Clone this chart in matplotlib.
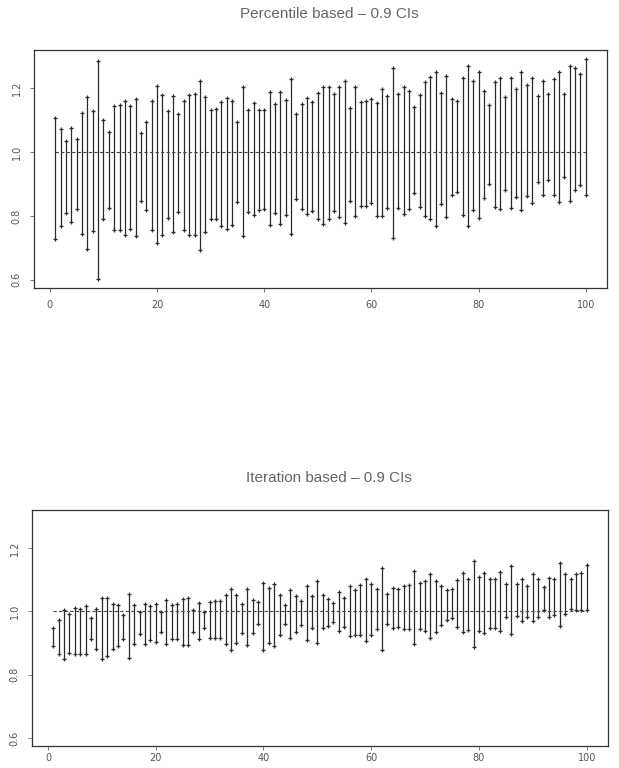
import numpy as np
import matplotlib
matplotlib.use("Agg")
import matplotlib.pyplot as plt

# ---- data ----
idx = list(range(1, 101))

pct_lower = [0.729, 0.768, 0.809, 0.781, 0.823, 0.745, 0.698, 0.754, 0.602, 0.792,
             0.826, 0.755, 0.755, 0.740, 0.760, 0.738, 0.846, 0.818, 0.755, 0.714,
             0.740, 0.795, 0.750, 0.813, 0.755, 0.740, 0.740, 0.693, 0.750, 0.789,
             0.789, 0.768, 0.760, 0.773, 0.844, 0.736, 0.813, 0.802, 0.820, 0.823,
             0.773, 0.810, 0.776, 0.804, 0.742, 0.854, 0.823, 0.807, 0.815, 0.790,
             0.775, 0.790, 0.815, 0.797, 0.779, 0.847, 0.800, 0.831, 0.831, 0.842,
             0.800, 0.800, 0.824, 0.732, 0.824, 0.807, 0.823, 0.873, 0.829, 0.800,
             0.792, 0.768, 0.836, 0.797, 0.867, 0.875, 0.802, 0.768, 0.818, 0.795,
             0.857, 0.901, 0.828, 0.823, 0.882, 0.825, 0.859, 0.820, 0.862, 0.839,
             0.906, 0.865, 0.911, 0.865, 0.844, 0.922, 0.846, 0.882, 0.896, 0.865]
pct_upper = [1.107, 1.071, 1.036, 1.076, 1.040, 1.123, 1.171, 1.128, 1.286, 1.099,
             1.064, 1.143, 1.146, 1.161, 1.143, 1.167, 1.059, 1.094, 1.159, 1.206,
             1.179, 1.130, 1.177, 1.118, 1.161, 1.179, 1.182, 1.224, 1.172, 1.132,
             1.135, 1.158, 1.169, 1.161, 1.094, 1.203, 1.132, 1.154, 1.133, 1.133,
             1.188, 1.151, 1.188, 1.164, 1.229, 1.120, 1.151, 1.169, 1.156, 1.185,
             1.205, 1.203, 1.182, 1.203, 1.221, 1.139, 1.203, 1.157, 1.159, 1.165,
             1.154, 1.199, 1.175, 1.264, 1.182, 1.203, 1.190, 1.142, 1.180, 1.219,
             1.235, 1.251, 1.185, 1.237, 1.165, 1.161, 1.232, 1.271, 1.221, 1.250,
             1.190, 1.146, 1.219, 1.231, 1.172, 1.231, 1.198, 1.250, 1.211, 1.231,
             1.177, 1.224, 1.182, 1.229, 1.250, 1.182, 1.268, 1.262, 1.245, 1.292]

itr_lower = [0.889, 0.866, 0.849, 0.868, 0.865, 0.866, 0.865, 0.911, 0.880, 0.849,
             0.860, 0.880, 0.889, 0.911, 0.852, 0.896, 0.927, 0.897, 0.909, 0.902,
             0.935, 0.897, 0.911, 0.911, 0.894, 0.894, 0.935, 0.911, 0.948, 0.914,
             0.914, 0.917, 0.897, 0.876, 0.901, 0.932, 0.892, 0.930, 0.961, 0.878,
             0.899, 0.889, 0.925, 0.961, 0.917, 0.935, 0.958, 0.909, 0.946, 0.901,
             0.946, 0.954, 0.965, 0.939, 0.951, 0.922, 0.925, 0.925, 0.907, 0.925,
             0.943, 0.878, 0.961, 0.946, 0.951, 0.943, 0.943, 0.897, 0.943, 0.938,
             0.917, 0.935, 0.958, 0.972, 0.977, 0.951, 0.935, 0.940, 0.888, 0.936,
             0.931, 0.948, 0.947, 0.938, 0.981, 0.927, 0.984, 0.969, 0.983, 0.969,
             0.981, 1.005, 0.981, 0.989, 0.952, 0.992, 1.007, 1.004, 1.004, 1.004]
itr_upper = [0.948, 0.972, 1.003, 0.991, 1.011, 1.007, 1.016, 0.977, 1.008, 1.043,
             1.043, 1.024, 1.019, 0.988, 1.055, 1.021, 0.996, 1.023, 1.016, 1.022,
             0.996, 1.034, 1.021, 1.022, 1.040, 1.043, 1.003, 1.026, 0.998, 1.029,
             1.032, 1.032, 1.050, 1.071, 1.050, 1.024, 1.071, 1.034, 1.029, 1.089,
             1.074, 1.086, 1.052, 1.021, 1.068, 1.048, 1.032, 1.081, 1.047, 1.094,
             1.050, 1.038, 1.026, 1.060, 1.043, 1.081, 1.068, 1.083, 1.102, 1.086,
             1.071, 1.135, 1.055, 1.074, 1.071, 1.081, 1.083, 1.128, 1.089, 1.094,
             1.118, 1.094, 1.081, 1.068, 1.071, 1.099, 1.120, 1.103, 1.158, 1.109,
             1.120, 1.101, 1.101, 1.124, 1.085, 1.143, 1.085, 1.103, 1.080, 1.117,
             1.103, 1.078, 1.106, 1.101, 1.151, 1.119, 1.101, 1.117, 1.122, 1.146]

ref_value = 1.0
titles = ["Percentile based \u2013 0.9 CIs", "Iteration based \u2013 0.9 CIs"]
xticks = [0, 20, 40, 60, 80, 100]
yticks = [0.6, 0.8, 1.0, 1.2]

# ---- figure ----
W, H = 619, 768
fig = plt.figure(figsize=(W / 100, H / 100), dpi=100)
fig.patch.set_facecolor("white")

def px_axes(l, t, r, b):
    return fig.add_axes([l / W, 1 - b / H, (r - l) / W, (b - t) / H])

ax_top = px_axes(34, 50, 607, 288)
ax_bot = px_axes(32, 510, 608, 746)

allv = pct_lower + pct_upper
lo, hi = min(allv), max(allv)
pad = 0.04 * (hi - lo)
ylim = (lo - pad, hi + pad)
xlim = (1 - 0.04 * 99, 100 + 0.04 * 99)

line_col = "#2a2a2a"
txt_col = "#555555"

for ax, lower, upper, title, ty, xpad in [
        (ax_top, pct_lower, pct_upper, titles[0], 14, 6),
        (ax_bot, itr_lower, itr_upper, titles[1], 478, 2)]:
    ax.vlines(idx, lower, upper, colors=line_col, linewidth=0.9)
    ax.plot(idx, lower, linestyle="none", marker="+", markersize=3.2,
            markeredgewidth=0.9, color=line_col)
    ax.plot(idx, upper, linestyle="none", marker="+", markersize=3.2,
            markeredgewidth=0.9, color=line_col)
    ax.plot([idx[0], idx[-1]], [ref_value, ref_value], linestyle=(0, (3, 2)),
            color="#444444", linewidth=0.8)
    ax.set_xlim(*xlim)
    ax.set_ylim(*ylim)
    ax.set_xticks(xticks)
    ax.set_yticks(yticks)
    ax.set_xticklabels([str(v) for v in xticks], fontsize=7, color=txt_col)
    ax.set_yticklabels([f"{v:.1f}" for v in yticks], fontsize=7, color=txt_col,
                       rotation=90, va="center")
    ax.tick_params(direction="out", length=3, width=0.6, colors="#666666",
                   labelcolor=txt_col)
    ax.tick_params(axis="y", pad=6)
    ax.tick_params(axis="x", pad=xpad)
    for s in ax.spines.values():
        s.set_linewidth(0.9)
        s.set_color("#333333")
    fig.text(329 / W, 1 - ty / H, title, ha="center", va="center",
             fontsize=11, color="#666666", family="Liberation Sans")

fig.savefig("out.png", dpi=100, facecolor="white")
